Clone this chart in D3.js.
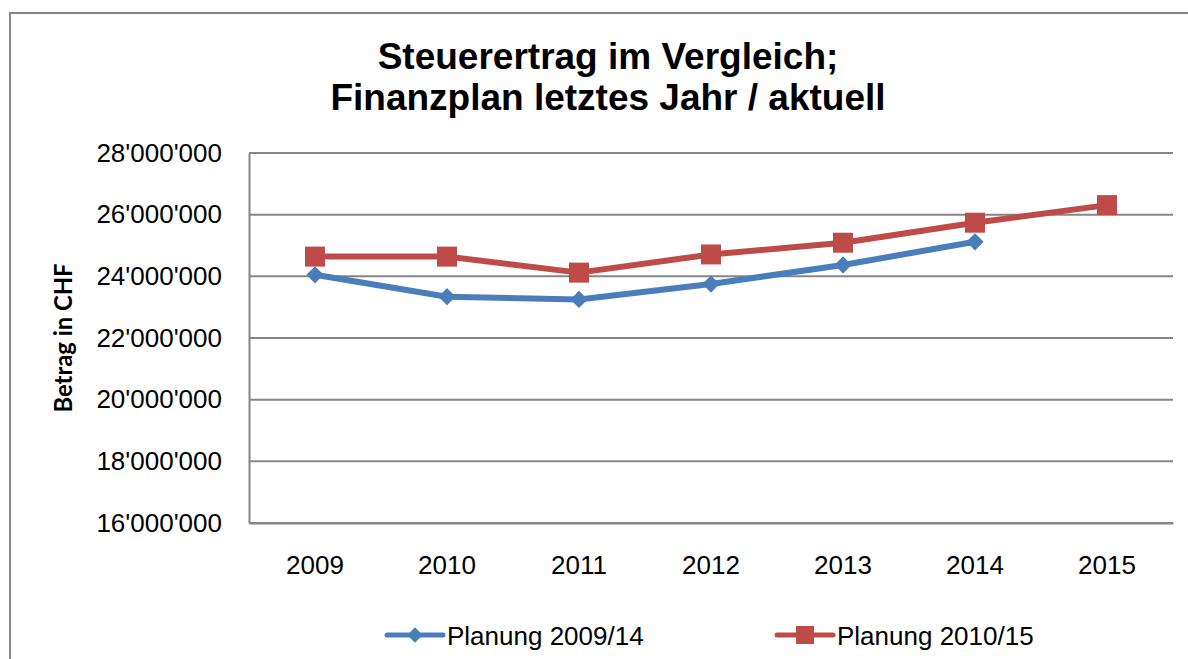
<!DOCTYPE html>
<html>
<head>
	<meta charset="UTF-8">
	<title>Steuerertrag im Vergleich</title>
	<script src="https://d3js.org/d3.v7.min.js"></script>
	<style>
		body{margin:0;background:#fff;}
		svg{display:block;}
	</style>
</head>
<body>
<div id="chart"></div>
<script>
	// data
	let years=["2009","2010","2011","2012","2013","2014","2015"]
	let plan0914=[24050000,23340000,23250000,23750000,24370000,25120000,null]
	let plan1015=[24640000,24640000,24120000,24710000,25090000,25740000,26310000]
	let yTicks=[16000000,18000000,20000000,22000000,24000000,26000000,28000000]
	let seriesNames=["Planung 2009/14","Planung 2010/15"]

	let W=1188,H=659
	let m={left:249,top:153,right:1173,bottom:523}
	let blue="#4A7EBB",red="#BE4B48",grey="#868686"

	var svg=d3.select("#chart").append("svg").attr("width",W).attr("height",H)

	// outer frame of the chart
	svg.append("rect").attr("x",10).attr("y",13).attr("width",W+20).attr("height",H+20)
		.attr("fill","none").attr("stroke",grey).attr("stroke-width",2)

	svg.append("text").attr("x",608).attr("y",69).attr("text-anchor","middle")
		.attr("style","font-family:'Liberation Sans',Arial,sans-serif;font-weight:bold;font-size:37px;")
		.text("Steuerertrag im Vergleich;")
	svg.append("text").attr("x",608).attr("y",110).attr("text-anchor","middle")
		.attr("style","font-family:'Liberation Sans',Arial,sans-serif;font-weight:bold;font-size:37px;")
		.text("Finanzplan letztes Jahr / aktuell")

	var x=d3.scaleBand().domain(years).range([m.left,m.right])
	var y=d3.scaleLinear().domain([16000000,28000000]).range([m.bottom,m.top])
	let fmt=d=>d3.format(",")(d).replace(/,/g,"'")

	// gridlines
	svg.append("g").selectAll("line").data(yTicks).enter().append("line")
		.attr("x1",m.left).attr("x2",m.right)
		.attr("y1",d=>y(d)).attr("y2",d=>y(d))
		.attr("stroke",grey).attr("stroke-width",2)

	// y axis
	var ya=svg.append("g").attr("transform","translate("+m.left+",0)")
		.call(d3.axisLeft(y).tickValues(yTicks).tickFormat(fmt).tickSize(0).tickPadding(27))
	ya.select(".domain").attr("stroke",grey).attr("stroke-width",2)
	ya.selectAll("text").attr("style","font-family:'Liberation Sans',Arial,sans-serif;font-size:26px;fill:#000;")

	// x axis
	var xa=svg.append("g").attr("transform","translate(0,"+m.bottom+")")
		.call(d3.axisBottom(x).tickSize(0).tickPadding(33))
	xa.select(".domain").attr("stroke",grey).attr("stroke-width",2)
	xa.selectAll("text").attr("style","font-family:'Liberation Sans',Arial,sans-serif;font-size:26px;fill:#000;")

	svg.append("text").attr("transform","translate(72,338) rotate(-90)").attr("text-anchor","middle")
		.attr("textLength",149).attr("lengthAdjust","spacingAndGlyphs")
		.attr("style","font-family:Lato,'Open Sans',sans-serif;font-weight:bold;font-size:25px;")
		.text("Betrag in CHF")

	var line=d3.line().defined(d=>d[1]!=null)
		.x(d=>x(d[0])+x.bandwidth()/2).y(d=>y(d[1]))

	let s1=years.map((d,i)=>[d,plan0914[i]])
	let s2=years.map((d,i)=>[d,plan1015[i]])

	svg.append("path").datum(s1).attr("d",line).attr("fill","none")
		.attr("stroke",blue).attr("stroke-width",6).attr("stroke-linejoin","round")
	svg.append("path").datum(s2).attr("d",line).attr("fill","none")
		.attr("stroke",red).attr("stroke-width",6).attr("stroke-linejoin","round")

	let diamond=d3.symbol().type(d3.symbolDiamond2).size(190)
	svg.append("g").selectAll("path").data(s1.filter(d=>d[1]!=null)).enter().append("path")
		.attr("d",diamond)
		.attr("transform",d=>"translate("+(x(d[0])+x.bandwidth()/2)+","+y(d[1])+")")
		.attr("fill",blue)
	svg.append("g").selectAll("rect").data(s2).enter().append("rect")
		.attr("x",d=>x(d[0])+x.bandwidth()/2-10).attr("y",d=>y(d[1])-10)
		.attr("width",20).attr("height",20).attr("fill",red)

	// legend
	let lg=[{x:387,c:blue,name:seriesNames[0]},{x:777,c:red,name:seriesNames[1]}]
	var l=svg.append("g").selectAll("g").data(lg).enter().append("g")
		.attr("transform",d=>"translate("+d.x+",635)")
	l.append("line").attr("x1",0).attr("x2",56).attr("stroke",d=>d.c).attr("stroke-width",5).attr("stroke-linecap","round")
	l.filter((d,i)=>i==0).append("path").attr("d",d3.symbol().type(d3.symbolDiamond2).size(150)).attr("transform","translate(28,0)").attr("fill",blue)
	l.filter((d,i)=>i==1).append("rect").attr("x",19).attr("y",-9).attr("width",18).attr("height",18).attr("fill",red)
	l.append("text").attr("x",60).attr("y",10)
		.attr("style","font-family:'Liberation Sans',Arial,sans-serif;font-size:26px;")
		.text(d=>d.name)
</script>
</body>
</html>
